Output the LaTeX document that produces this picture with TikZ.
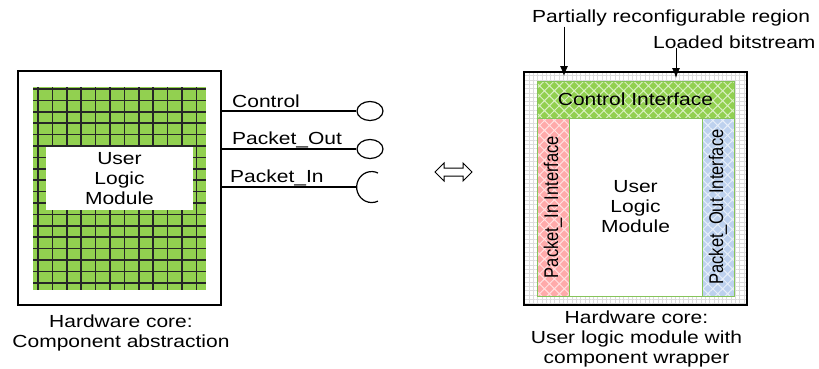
\documentclass[tikz,border=0pt]{standalone}
\usepackage{fontspec}
\setmainfont[FakeStretch=1.2]{Liberation Sans}
\newfontfamily\sidefont{Liberation Sans}
\usetikzlibrary{shapes.geometric,shapes.arrows,arrows.meta,patterns.meta}

\definecolor{cellgreen}{HTML}{92D050}
\definecolor{gridline}{HTML}{262626}
\definecolor{ifgreen}{HTML}{92D050}
\definecolor{ifpink}{HTML}{FFAAAA}
\definecolor{ifblue}{HTML}{BDD1EE}
\definecolor{ifedge}{HTML}{86C45A}
\definecolor{framegrid}{HTML}{DCDCDC}

\begin{document}
\begin{tikzpicture}[
  x=1pt, y=1pt,
  font=\fontsize{17.5}{20}\selectfont,
  box/.style={draw, inner sep=0pt, outer sep=0pt},
  corebox/.style={box, line width=1.6pt, fill=white},
  cellline/.style={draw=gridline, line width=1.5pt},
  port/.style={ellipse, draw, line width=1.2pt, minimum width=26pt, minimum height=19pt, inner sep=0pt},
  wire/.style={line width=1.2pt},
  plabel/.style={anchor=base west, inner sep=0pt},
  iface/.style={box, draw=ifedge, line width=0.8pt, preaction={fill=#1},
    pattern={Hatch[angle=45,distance=7pt,line width=1pt]}, pattern color=#1!35!white},
  sidelabel/.style={rotate=90, yscale=1.2, inner sep=0pt, font=\sidefont\fontsize{16.5}{20}\selectfont},
  pointer/.style={-{Latex[length=10pt,width=8pt]}, line width=1pt},
  caption/.style={anchor=north, align=center, inner sep=0pt}
]
\useasboundingbox (0,0) rectangle (819,-368);

% component abstraction
\node[corebox, minimum width=203pt, minimum height=234pt] (core) at (119.5,-188) {};
\node[box, draw=none, fill=cellgreen, minimum width=173pt, minimum height=203pt] (cells) at (119.5,-188.5) {};
\foreach \gx in {0,...,11}
  \draw[cellline] (38+14.4*\gx,-87) -- (38+14.4*\gx,-290);
\foreach \gy in {0,...,17}
  \draw[cellline] (33,-89-11.4*\gy) -- (206,-89-11.4*\gy);
\node[box, draw=none, fill=white, minimum width=147pt, minimum height=63pt, align=center] (ulm) at (119.5,-178.5) {User\\Logic\\Module};

\node[port] (ctrlport) at (370,-111) {};
\node[port] (outport) at (370,-149) {};
\coordinate (insock) at (357,-187);
\draw[wire] (core.east |- ctrlport) -- (ctrlport.west);
\draw[wire] (core.east |- outport) -- (outport.west);
\draw[wire] (core.east |- insock) -- (insock);
\draw[wire] ([xshift=21pt,yshift=14pt]insock) arc[start angle=65, end angle=295, x radius=15pt, y radius=15.5pt];

\node[plabel] (ctrllbl) at (232,-107.5) {Control};
\node[plabel] (outlbl) at (232,-144) {Packet\_Out};
\node[plabel] (inlbl) at (230,-182.3) {Packet\_In};

\node[double arrow, draw, line width=1pt, minimum height=37pt, inner xsep=0pt, inner ysep=3.5pt,
  double arrow head extend=5pt] (swap) at (453.5,-172) {};

% wrapped user logic
\node[corebox, preaction={fill=white}, pattern={Hatch[angle=0,distance=4.3pt,line width=0.5pt]},
  pattern color=framegrid, minimum width=223pt, minimum height=233pt] (prr) at (635.5,-188.5) {};
\node[iface=ifgreen, minimum width=197pt, minimum height=37pt] (ctrlif) at (635.5,-99.5) {Control Interface};
\node[iface=ifpink, minimum width=32pt, minimum height=178pt] (inif) at (553,-207) {};
\node[iface=ifblue, minimum width=32pt, minimum height=178pt] (outif) at (718,-207) {};
\node[box, draw=ifedge, line width=0.8pt, fill=white, minimum width=133pt, minimum height=178pt, align=center] (ulmr) at (635.5,-207) {User\\Logic\\Module};
\node[sidelabel] (inlabel) at (inif) {Packet\_In Interface};
\node[sidelabel] (outlabel) at (outif) {Packet\_Out Interface};

\node[plabel] (prlbl) at (532,-22.7) {Partially reconfigurable region};
\node[plabel] (bitlbl) at (653,-48) {Loaded bitstream};
\coordinate (prtip) at (564,-76);
\coordinate (bittip) at (676,-78);
\draw[pointer] (prlbl.south -| prtip) -- (prtip);
\draw[pointer] (bitlbl.south -| bittip) -- (bittip);

\node[caption] (corecap) at (121,-314.5) {Hardware core:\\Component abstraction};
\node[caption] (prrcap) at (636.5,-310.3) {Hardware core:\\User logic module with\\component wrapper};
\end{tikzpicture}
\end{document}
